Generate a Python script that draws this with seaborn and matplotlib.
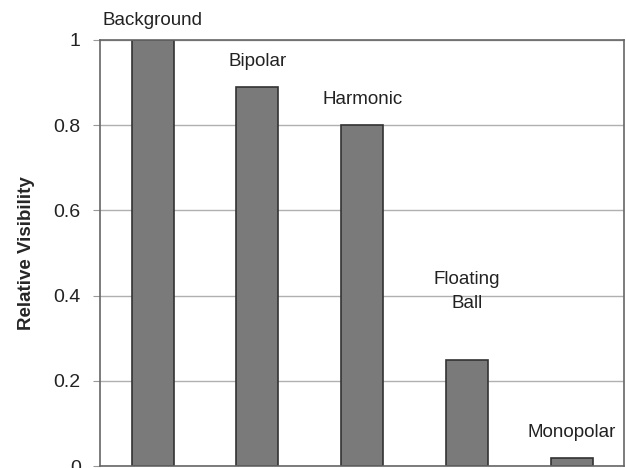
import pandas as pd
import seaborn as sns
import matplotlib.pyplot as plt

# Bar values
categories = ['Background', 'Bipolar', 'Harmonic', 'Floating\nBall', 'Monopolar']
visibility = [1.0, 0.89, 0.80, 0.25, 0.02]
y_ticks = [0, 0.2, 0.4, 0.6, 0.8, 1]
y_tick_labels = ['0', '0.2', '0.4', '0.6', '0.8', '1']

df = pd.DataFrame({'Method': categories, 'Relative Visibility': visibility})

sns.set_style('white')
plt.rcParams['font.family'] = ['Liberation Sans', 'DejaVu Sans']

fig = plt.figure(figsize=(6.26, 4.68), dpi=100)
ax = fig.add_axes([0.16, 0.004, 0.837, 0.911])

sns.barplot(data=df, x='Method', y='Relative Visibility', color='#7a7a7a',
            edgecolor='#333333', linewidth=1.2, width=0.4, saturation=1, ax=ax)

# Labels above bars (two-line labels sit a bit higher)
for i, (name, val) in enumerate(zip(categories, visibility)):
    n_lines = name.count('\n') + 1
    y = min(val + 0.06 + 0.1 * (n_lines - 1), 1.045)
    ax.text(i, y, name, ha='center', va='center', fontsize=13.5,
            color='#222222', linespacing=1.55, clip_on=False)

ax.set_ylim(0, 1)
ax.set_xlim(-0.5, 4.5)
ax.set_yticks(y_ticks)
ax.set_yticklabels(y_tick_labels, fontsize=14, color='#222222')
ax.set_xticks([])
ax.set_xlabel('')
ax.set_ylabel('Relative Visibility', fontsize=13.5, fontweight='bold', labelpad=13)
ax.tick_params(axis='y', length=5, color='#999999', pad=9, left=True)
ax.yaxis.grid(True, color='#b0b0b0', linewidth=1)
ax.set_axisbelow(True)
for side in ['left', 'top', 'right', 'bottom']:
    ax.spines[side].set_visible(True)
    ax.spines[side].set_color('#666666')
    ax.spines[side].set_linewidth(1.2)

fig.savefig('out.png', dpi=100)
